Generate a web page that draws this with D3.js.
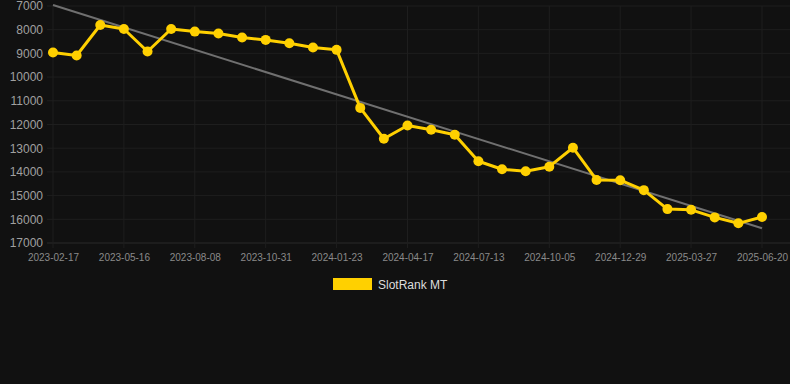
<!DOCTYPE html>
<html>
<head>
<meta charset="utf-8">
<script src="https://cdn.jsdelivr.net/npm/d3@7"></script>
<style>
  body { margin: 0; background: #111111; }
  svg { display: block; font-family: "Liberation Sans", Arial, sans-serif; }
</style>
</head>
<body>
<div id="chart"></div>
<script>
var svgWidth = 790;
var svgHeight = 384;

// dates (one per point), ticks shown every third
var dates = [
  "2023-02-17", "2023-03-17", "2023-04-17", "2023-05-16", "2023-06-13", "2023-07-11",
  "2023-08-08", "2023-09-05", "2023-10-03", "2023-10-31", "2023-11-28", "2023-12-26",
  "2024-01-23", "2024-02-20", "2024-03-19", "2024-04-17", "2024-05-16", "2024-06-14",
  "2024-07-13", "2024-08-10", "2024-09-07", "2024-10-05", "2024-11-02", "2024-12-01",
  "2024-12-29", "2025-01-27", "2025-02-26", "2025-03-27", "2025-04-24", "2025-05-22",
  "2025-06-20"
];
var rankValues = [
  8960, 9090, 7800, 7970, 8920, 7970,
  8080, 8160, 8330, 8430, 8570, 8750,
  8850, 11300, 12600, 12040, 12220, 12430,
  13550, 13890, 13970, 13780, 12980, 14340,
  14350, 14770, 15570, 15600, 15920, 16170,
  15900
];
var trendValues = [6960, 16380];
var yTicks = [7000, 8000, 9000, 10000, 11000, 12000, 13000, 14000, 15000, 16000, 17000];
var seriesName = "SlotRank MT";

var margin = { top: 6, right: 28, bottom: 141, left: 53 };
var width = svgWidth - margin.left - margin.right;
var height = 243 - margin.top;

var svg = d3.select("#chart")
  .append("svg")
  .attr("width", svgWidth)
  .attr("height", svgHeight);

svg.append("rect")
  .attr("width", svgWidth)
  .attr("height", svgHeight)
  .attr("fill", "#111111");

var chartGroup = svg.append("g")
  .attr("transform", `translate(${margin.left}, ${margin.top})`);

var xScale = d3.scalePoint()
  .domain(dates)
  .range([0, 709]);

var yScale = d3.scaleLinear()
  .domain([7000, 17000])
  .range([0, height]);

var tickDates = dates.filter((d, i) => i % 3 === 0);

// horizontal grid
chartGroup.append("g")
  .selectAll("line")
  .data(yTicks)
  .enter()
  .append("line")
  .attr("x1", -6)
  .attr("x2", svgWidth - margin.left)
  .attr("y1", d => yScale(d))
  .attr("y2", d => yScale(d))
  .attr("stroke", d => d === 17000 ? "#2a2a2a" : "#1e1e1e")
  .attr("stroke-width", 1);

// vertical grid
chartGroup.append("g")
  .selectAll("line")
  .data(tickDates)
  .enter()
  .append("line")
  .attr("x1", d => xScale(d))
  .attr("x2", d => xScale(d))
  .attr("y1", 0)
  .attr("y2", height + 5)
  .attr("stroke", "#1e1e1e")
  .attr("stroke-width", 1);

// y axis labels
var leftAxis = d3.axisLeft(yScale)
  .tickValues(yTicks)
  .tickFormat(d3.format("d"))
  .tickSize(0)
  .tickPadding(10);
var yAxis = chartGroup.append("g").call(leftAxis);
yAxis.select(".domain").remove();
yAxis.selectAll("text")
  .attr("fill", "#a0a0a0")
  .attr("font-size", "12px")
  .attr("font-family", "Liberation Sans, Arial, sans-serif");

// x axis labels
var bottomAxis = d3.axisBottom(xScale).tickValues(tickDates).tickSize(0).tickPadding(11);
var xAxis = chartGroup.append("g")
  .attr("transform", `translate(0, ${height})`)
  .call(bottomAxis);
xAxis.select(".domain").remove();
xAxis.selectAll("text")
  .attr("fill", "#8a8a8a")
  .attr("font-size", "10px")
  .attr("font-family", "Liberation Sans, Arial, sans-serif");

// trend line
chartGroup.append("line")
  .attr("x1", xScale(dates[0]))
  .attr("x2", xScale(dates[dates.length - 1]))
  .attr("y1", yScale(trendValues[0]))
  .attr("y2", yScale(trendValues[1]))
  .attr("stroke", "#707070")
  .attr("stroke-width", 2);

// series line
var line = d3.line()
  .x((d, i) => xScale(dates[i]))
  .y(d => yScale(d));

chartGroup.append("path")
  .datum(rankValues)
  .attr("d", line)
  .attr("fill", "none")
  .attr("stroke", "#ffd000")
  .attr("stroke-width", 3)
  .attr("stroke-linejoin", "round");

chartGroup.selectAll("circle")
  .data(rankValues)
  .enter()
  .append("circle")
  .attr("cx", (d, i) => xScale(dates[i]))
  .attr("cy", d => yScale(d))
  .attr("r", 5)
  .attr("fill", "#ffd000");

// legend
var legend = svg.append("g").attr("transform", "translate(333, 278)");
legend.append("rect")
  .attr("width", 39)
  .attr("height", 12)
  .attr("fill", "#ffd000");
legend.append("text")
  .attr("x", 45)
  .attr("y", 11)
  .attr("fill", "#dddddd")
  .attr("font-size", "12px")
  .text(seriesName);
</script>
</body>
</html>
